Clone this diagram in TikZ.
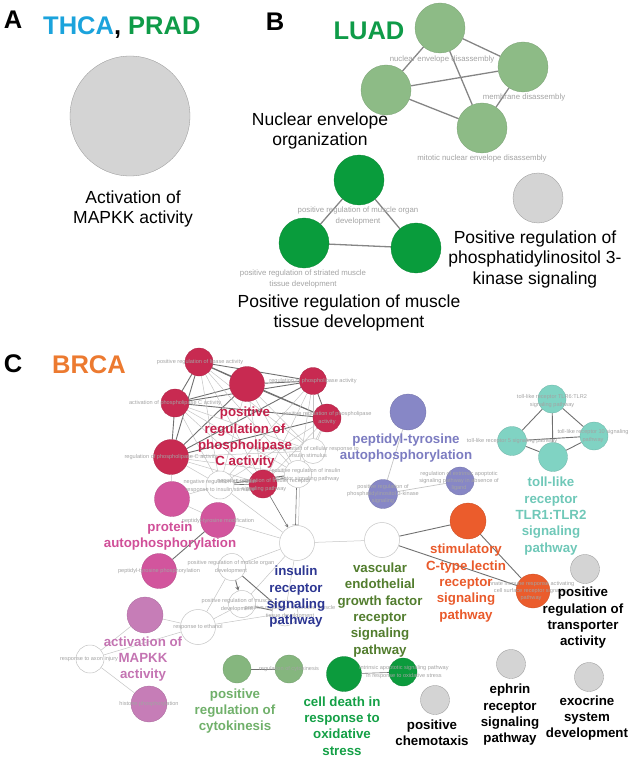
\documentclass[tikz,border=0pt]{standalone}
\usepackage{fontspec}
\setmainfont{Liberation Sans}
\usetikzlibrary{arrows,backgrounds}
\definecolor{thca}{HTML}{1BA3DC}
\definecolor{prad}{HTML}{0F9B48}
\definecolor{brca}{HTML}{EC7A30}
\definecolor{envgreen}{HTML}{8DBB86}
\definecolor{musgreen}{HTML}{099C3C}
\definecolor{termgray}{HTML}{D4D4D4}
\definecolor{crimson}{HTML}{C82A51}
\definecolor{crimsontext}{HTML}{C4224B}
\definecolor{pinkterm}{HTML}{D2559D}
\definecolor{pinktext}{HTML}{D04F98}
\definecolor{mauve}{HTML}{C67DB7}
\definecolor{mauvetext}{HTML}{C474B2}
\definecolor{lavender}{HTML}{8787C6}
\definecolor{lavendertext}{HTML}{7C7CC1}
\definecolor{tollteal}{HTML}{80D3C3}
\definecolor{tolltext}{HTML}{6FC8B8}
\definecolor{lectin}{HTML}{EB5C2C}
\definecolor{lectintext}{HTML}{E95A2B}
\definecolor{cytogreen}{HTML}{85B67E}
\definecolor{cytotext}{HTML}{70B06A}
\definecolor{deathgreen}{HTML}{0C9B3D}
\definecolor{deathtext}{HTML}{14A046}
\definecolor{insulinblue}{HTML}{2C3692}
\definecolor{vegfgreen}{HTML}{527D2E}
\definecolor{smallgray}{HTML}{A3A3A3}
\definecolor{edgemid}{HTML}{858585}
\definecolor{edgedark}{HTML}{707070}
\definecolor{edgelight}{HTML}{C4C4C4}

\tikzset{
  term/.style={shape=circle, inner sep=0pt, line width=0.3pt},
  graynode/.style={term, fill=termgray, draw=termgray!70!black},
  envnode/.style={term, fill=envgreen, draw=envgreen!85!black},
  musnode/.style={term, fill=musgreen, draw=musgreen!85!black},
  plcnode/.style={term, fill=crimson, draw=crimson!85!black},
  autonode/.style={term, fill=pinkterm, draw=pinkterm!85!black},
  mapnode/.style={term, fill=mauve, draw=mauve!85!black},
  tyrnode/.style={term, fill=lavender, draw=lavender!85!black},
  tollnode/.style={term, fill=tollteal, draw=tollteal!85!black},
  lecnode/.style={term, fill=lectin, draw=lectin!85!black},
  cytonode/.style={term, fill=cytogreen, draw=cytogreen!85!black},
  deathnode/.style={term, fill=deathgreen, draw=deathgreen!85!black},
  whitenode/.style={term, fill=white, draw=edgelight, line width=0.5pt},
  paneltag/.style={font=\bfseries\fontsize{25.5}{30}\selectfont, inner sep=0pt, anchor=base},
  bigtext/.style={font=\fontsize{17.5}{20.5}\selectfont, align=center, inner sep=0pt},
  clusterlab/.style={font=\bfseries\fontsize{13.3}{16.3}\selectfont, align=center, inner sep=0pt},
  smlab/.style={font=\fontsize{7.8}{10.5}\selectfont, text=smallgray, align=center, inner sep=0pt},
  tinylab/.style={font=\fontsize{5.6}{7.4}\selectfont, text=smallgray, align=center, inner sep=0pt},
  envedge/.style={draw=edgemid, line width=1.3pt},
  darkedge/.style={draw=edgedark, line width=0.9pt},
  lightedge/.style={draw=edgelight, line width=0.5pt}
}

\begin{document}
\begin{tikzpicture}[x=1pt, y=-1pt]
\useasboundingbox (0,0) rectangle (633,759);

% A
\node [paneltag] (tagA) at (13,29) {A};
\node [paneltag, anchor=base west] (titleA) at (43,35) {\textcolor{thca}{THCA}, \textcolor{prad}{PRAD}};
\node [graynode, minimum size=120pt] (mapkk) at (130,116) {};
\node [bigtext] (mapkklab) at (133,209) {Activation of\\MAPKK activity};

% B
\node [paneltag] (tagB) at (275,31) {B};
\node [paneltag, text=prad] (titleB) at (369,40) {LUAD};
\node [envnode, minimum size=50pt] (envA) at (440,28) {};
\node [envnode, minimum size=50pt] (envB) at (386,90) {};
\node [envnode, minimum size=50pt] (envC) at (523,67) {};
\node [envnode, minimum size=50pt] (envD) at (482,128) {};
\node [smlab] (envAlab) at (442,59) {nuclear envelope disassembly};
\node [smlab] (envClab) at (524,97) {membrane disassembly};
\node [smlab] (envDlab) at (482,158) {mitotic nuclear envelope disassembly};
\node [bigtext] (envlab) at (320,131) {Nuclear envelope\\organization};

\node [musnode, minimum size=50pt] (musA) at (359,180) {};
\node [musnode, minimum size=50pt] (musB) at (304,243) {};
\node [musnode, minimum size=50pt] (musC) at (416,248) {};
\node [smlab] (musAlab) at (358,216) {positive regulation of muscle organ\\development};
\node [smlab] (musBlab) at (303,279) {positive regulation of striated muscle\\tissue development};
\node [bigtext] (muslab) at (349,313) {Positive regulation of muscle\\tissue development};

\node [graynode, minimum size=50pt] (pik) at (538,198) {};
\node [bigtext] (piklab) at (535,259) {Positive regulation of\\phosphatidylinositol 3-\\kinase signaling};

% C
\node [paneltag] (tagC) at (13,372) {C};
\node [paneltag, text=brca] (titleC) at (89,373) {BRCA};

% phospholipase cluster
\node [plcnode, minimum size=28pt] (rA) at (199,362) {};
\node [plcnode, minimum size=35pt] (rB) at (247,384) {};
\node [plcnode, minimum size=28pt] (rC) at (175,403) {};
\node [plcnode, minimum size=35pt] (rD) at (171,457) {};
\node [plcnode, minimum size=27pt] (rE) at (313,381) {};
\node [plcnode, minimum size=28pt] (rF) at (327,418) {};
\node [plcnode, minimum size=28pt] (rG) at (263,484) {};
\node [whitenode, minimum size=28pt] (wA) at (220,485) {};
\node [whitenode, minimum size=25pt] (wB) at (313,451) {};
\node [whitenode, minimum size=27pt] (wC) at (298,474) {};

% insulin / muscle / ethanol
\node [whitenode, minimum size=35pt] (wI) at (297,543) {};
\node [whitenode, minimum size=27pt] (wM) at (232,567) {};
\node [whitenode, minimum size=27pt] (wN) at (242,604) {};
\node [whitenode, minimum size=26pt] (wS) at (285,613) {};
\node [whitenode, minimum size=35pt] (wE) at (198,627) {};
\node [whitenode, minimum size=28pt] (wX) at (90,659) {};

% autophosphorylation and MAPKK
\node [autonode, minimum size=35pt] (pA) at (172,499) {};
\node [autonode, minimum size=35pt] (pB) at (218,520) {};
\node [autonode, minimum size=35pt] (pC) at (159,571) {};
\node [mapnode, minimum size=36pt] (mA) at (145,615) {};
\node [mapnode, minimum size=36pt] (mB) at (149,704) {};

% tyrosine, toll-like, lectin
\node [tyrnode, minimum size=36pt] (uA) at (408,412) {};
\node [tyrnode, minimum size=29pt] (uB) at (383,494) {};
\node [tyrnode, minimum size=28pt] (uC) at (460,481) {};
\node [tollnode, minimum size=28pt] (tA) at (552,399) {};
\node [tollnode, minimum size=29pt] (tB) at (512,441) {};
\node [tollnode, minimum size=28pt] (tC) at (594,436) {};
\node [tollnode, minimum size=29pt] (tD) at (553,457) {};
\node [whitenode, minimum size=35pt] (wV) at (382,540) {};
\node [lecnode, minimum size=36pt] (oA) at (468,521) {};
\node [lecnode, minimum size=34pt] (oB) at (533,591) {};
\node [graynode, minimum size=29pt] (gT) at (585,569) {};

% bottom row
\node [cytonode, minimum size=28pt] (cA) at (237,669) {};
\node [cytonode, minimum size=28pt] (cB) at (289,669) {};
\node [deathnode, minimum size=35pt] (dA) at (344,674) {};
\node [deathnode, minimum size=28pt] (dB) at (403,672) {};
\node [graynode, minimum size=29pt] (gC) at (435,700) {};
\node [graynode, minimum size=29pt] (gE) at (511,664) {};
\node [graynode, minimum size=29pt] (gX) at (589,677) {};

\begin{scope}[on background layer]
\path [envedge] (envA) edge (envB);
\path [envedge] (envA) edge (envC);
\path [envedge] (envA) edge (envD);
\path [envedge] (envB) edge (envC);
\path [envedge] (envB) edge (envD);
\path [envedge] (envC) edge (envD);
\path [envedge] (musA) edge (musB);
\path [envedge] (musA) edge (musC);
\path [envedge] (musB) edge (musC);

\foreach \a/\b in {rA/rB,rA/rC,rA/rD,rA/rE,rA/rF,rB/rC,rB/rD,rB/rE,rB/rF,rC/rD,rC/rE,rC/rF,rD/rE,rD/rF,rE/rF}
  \path [darkedge] (\a) edge (\b);
\foreach \a in {rA,rB,rC,rD,rE,rF}
  \foreach \b in {wA,wB,wC,rG}
    \path [lightedge] (\a) edge (\b);
\path [darkedge, double, double distance=1pt, line width=0.6pt] (rG) edge (wA);
\path [darkedge, double, double distance=1pt, line width=0.6pt] (rG) edge (wC);
\path [darkedge] (wA) edge (wC);
\path [lightedge] (rD) edge (pA);
\path [lightedge] (pA) edge (pB);
\path [lightedge] (pA) edge (wA);
\path [darkedge] (pB) edge (pC);
\path [lightedge] (pB) edge (wI);
\path [lightedge] (wA) edge (wI);
\draw [edgedark, line width=0.6pt, -stealth] (rG) -- (wI);
\draw [edgedark, line width=0.6pt, -|] ([xshift=-1.5pt]wC.south) -- ([xshift=-1.5pt]wI.north);
\draw [lightedge] ([xshift=1.5pt]wC.south) -- ([xshift=1.5pt]wI.north);
\path [lightedge] (wI) edge (wV);
\path [lightedge] (wI) edge (wM);
\path [lightedge] (wI) edge (wN);
\path [lightedge] (wI) edge (wS);
\draw [darkedge, -stealth] (wM) -- (wN);
\path [darkedge] (wM) edge (wS);
\path [darkedge] (wN) edge (wS);
\path [lightedge] (wE) edge (wM);
\path [lightedge] (wE) edge (wN);
\path [lightedge] (wE) edge (wS);
\path [lightedge] (wE) edge (mA);
\path [lightedge] (wX) edge (mA);
\path [lightedge] (wX) edge (mB);
\path [lightedge] (wX) edge (wE);

\path [lightedge, line width=0.7pt] (uA) edge (uB);
\path [lightedge, line width=0.7pt] (uB) edge (uC);
\path [darkedge] (tA) edge (tB);
\path [darkedge] (tA) edge (tC);
\path [darkedge] (tA) edge (tD);
\path [darkedge] (tB) edge (tC);
\path [darkedge] (tB) edge (tD);
\path [darkedge] (tD) edge (tC);
\path [darkedge] (wV) edge (oA);
\path [darkedge] (wV) edge (oB);
\path [darkedge] (oA) edge (oB);
\path [darkedge, double, double distance=1pt, line width=0.6pt] (cA) edge (cB);
\path [darkedge, double, double distance=1pt, line width=0.6pt] (dA) edge (dB);
\end{scope}

% small term labels
\node [tinylab] (rAlab) at (200,362) {positive regulation of lipase activity};
\node [tinylab] (rClab) at (175,403) {activation of phospholipase C activity};
\node [tinylab] (rDlab) at (171,457) {regulation of phospholipase C activity};
\node [tinylab] (rElab) at (313,381) {regulation of phospholipase activity};
\node [tinylab] (rFlab) at (327,418) {positive regulation of phospholipase\\activity};
\node [tinylab] (wBlab) at (308,452) {positive regulation of cellular response to\\insulin stimulus};
\node [tinylab] (wClab) at (306,475) {positive regulation of insulin\\receptor signaling pathway};
\node [tinylab] (wAlab) at (220,486) {negative regulation of cellular\\response to insulin stimulus};
\node [tinylab] (rGlab) at (264,485) {negative regulation of insulin receptor\\signaling pathway};
\node [tinylab] (pBlab) at (218,521) {peptidyl-tyrosine modification};
\node [tinylab] (pClab) at (159,571) {peptidyl-tyrosine phosphorylation};
\node [tinylab] (wMlab) at (231,567) {positive regulation of muscle organ\\development};
\node [tinylab] (wNlab) at (237,605) {positive regulation of muscle\\development};
\node [tinylab] (wSlab) at (290,612) {positive regulation of striated muscle\\tissue development};
\node [tinylab] (wElab) at (198,627) {response to ethanol};
\node [tinylab] (wXlab) at (89,659) {response to axon injury};
\node [tinylab] (mBlab) at (149,704) {histone phosphorylation};
\node [tinylab] (uBlab) at (383,494) {positive regulation of\\phosphatidylinositol 3-kinase\\signaling};
\node [tinylab] (uClab) at (459,481) {regulation of extrinsic apoptotic\\signaling pathway in absence of\\ligand};
\node [tinylab] (tAlab) at (552,401) {toll-like receptor TLR6:TLR2\\signaling pathway};
\node [tinylab] (tBlab) at (512,441) {toll-like receptor 5 signaling pathway};
\node [tinylab] (tClab) at (593,436) {toll-like receptor 10 signaling\\pathway};
\node [tinylab] (oBlab) at (531,591) {innate immune response activating\\cell surface receptor signaling\\pathway};
\node [tinylab] (cBlab) at (289,669) {regulation of cytokinesis};
\node [tinylab] (dBlab) at (404,672) {intrinsic apoptotic signaling pathway\\in response to oxidative stress};

% cluster labels
\node [clusterlab, text=crimsontext] (plclab) at (245,438) {positive\\regulation of\\phospholipase\\C activity};
\node [clusterlab, text=pinktext] (autolab) at (170,536) {protein\\autophosphorylation};
\node [clusterlab, text=mauvetext] (maplab) at (143,659) {activation of\\MAPKK\\activity};
\node [clusterlab, text=lavendertext] (tyrlab) at (406,448) {peptidyl-tyrosine\\autophosphorylation};
\node [clusterlab, text=tolltext] (tolllab) at (551,516) {toll-like\\receptor\\TLR1:TLR2\\signaling\\pathway};
\node [clusterlab, text=insulinblue] (inslab) at (296,597) {insulin\\receptor\\signaling\\pathway};
\node [clusterlab, text=vegfgreen] (vegflab) at (380,610) {vascular\\endothelial\\growth factor\\receptor\\signaling\\pathway};
\node [clusterlab, text=lectintext] (leclab) at (466,583) {stimulatory\\C-type lectin\\receptor\\signaling\\pathway};
\node [clusterlab] (translab) at (583,618) {positive\\regulation of\\transporter\\activity};
\node [clusterlab, text=cytotext] (cytolab) at (235,711) {positive\\regulation of\\cytokinesis};
\node [clusterlab, text=deathtext] (deathlab) at (342,726) {cell death in\\response to\\oxidative\\stress};
\node [clusterlab] (chemlab) at (432,733) {positive\\chemotaxis};
\node [clusterlab] (ephlab) at (510,715) {ephrin\\receptor\\signaling\\pathway};
\node [clusterlab] (exolab) at (587,718) {exocrine\\system\\development};
\end{tikzpicture}
\end{document}
